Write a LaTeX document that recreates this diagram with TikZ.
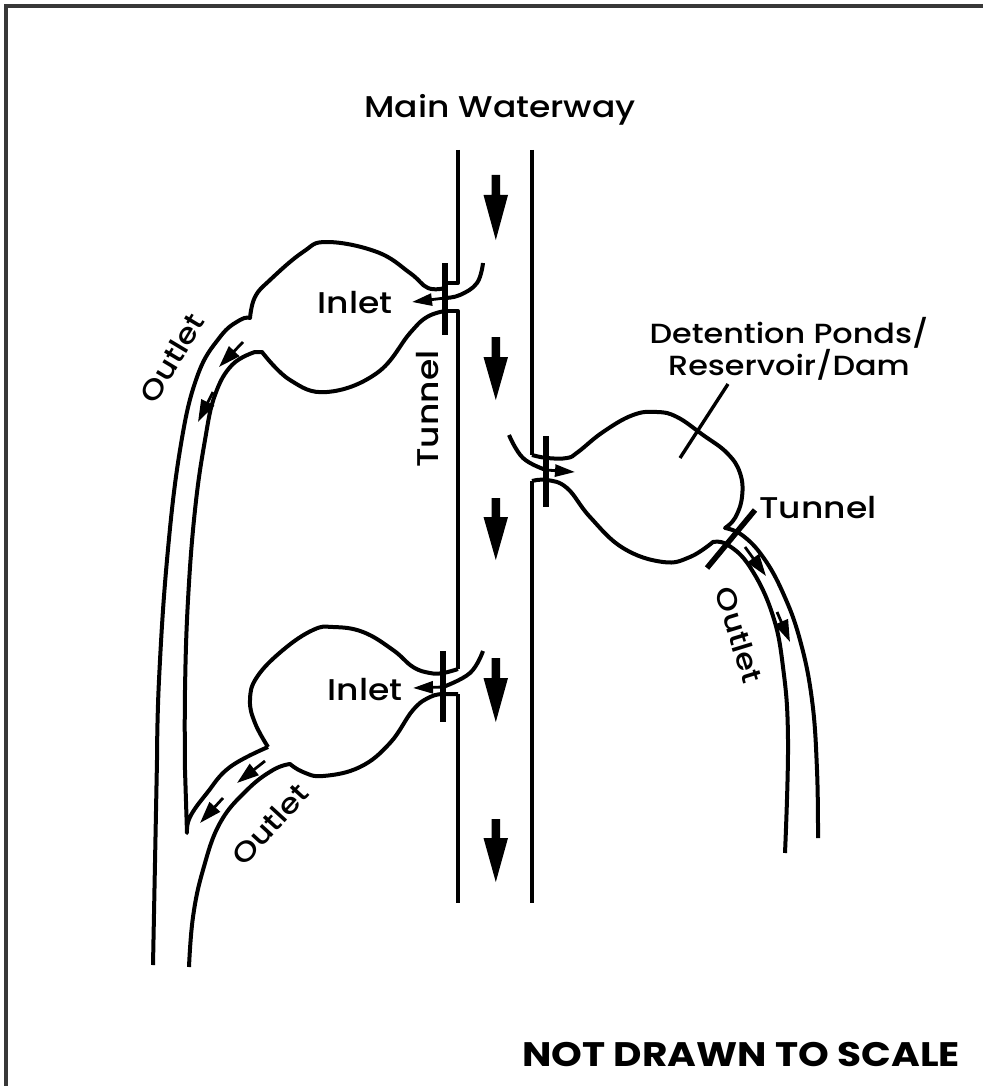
\documentclass[tikz,border=0pt]{standalone}
\usepackage{fontspec}
\setmainfont[FakeStretch=1.15,BoldFont={Poppins Bold}]{Poppins Medium}
\usetikzlibrary{arrows.meta}
\definecolor{framec}{HTML}{383838}
\tikzset{
 wall/.style={line width=4pt,black,line join=round},
 bar/.style={line width=5.5pt,black},
 lead/.style={line width=3.4pt,black},
 lbl/.style={font=\fontsize{30}{32}\selectfont,text=black,inner sep=0pt,align=center},
 outl/.style={font=\fontsize{28}{30}\selectfont,text=black,inner sep=0pt},
 smallarrow/.style={line width=2.8pt,black},
 curve/.style={smooth,tension=0.7},
}
\newcommand{\bigarrow}[3]{%
 \fill (491.5,#1) -- (500,#1) -- (500,#2) -- (508,#2) -- (495.8,#3) -- (483.5,#2) -- (491.5,#2) -- cycle;
 }
\newcommand{\smarrow}[2]{%
 \draw[smallarrow,-{Triangle[length=22pt,width=14pt]}] #1 -- #2;}
\newcommand{\inarrow}[2]{%
 \draw[smallarrow,-{Triangle[length=20pt,width=12pt]}] #1 -- #2;}
\begin{document}
\begin{tikzpicture}[x=1pt,y=-1pt]
\useasboundingbox (0,0) rectangle (983,1086);
\fill[white] (0,0) rectangle (983,1086);
\draw[framec,line width=4.5pt] (6,1086) -- (6,6) -- (983,6);

% main waterway banks
\draw[wall] (458,150) -- (458,283) -- (445,283);
\draw[wall] (532,150) -- (532,455);
\draw[wall] (445,311) -- (458,311) -- (458,669);
\draw[wall] (458,694) -- (458,903);
\draw[wall] (532,481) -- (532,903);

% pond 1
\draw[wall] plot[curve] coordinates {(445,288) (428,288) (410,273) (377,252) (327,242) (303,252) (270,280) (255,297) (250,318)}
 -- plot[curve] coordinates {(250,318) (240,320) (220,337) (197,377) (180,450) (167,560) (159,680) (157,760)}
 -- (153,965);
\draw[wall] plot[curve] coordinates {(445,311) (427,317) (410,333) (377,373) (327,392) (290,380) (262,352)}
 -- (255,352)
 -- plot[curve] coordinates {(255,352) (232,365) (215,395) (205,440) (195,510) (188,600) (185,690) (185,770)}
 -- (187,833)
 -- plot[curve] coordinates {(187,833) (190,817) (207,793) (230,767) (268,747)};

% pond 2
\draw[wall] plot[curve] coordinates {(268,747) (255,723) (250,700) (257,677) (283,650) (313,630) (333,627) (363,632) (393,650) (413,667) (430,673) (443,673) (458,669)};
\draw[wall] (458,694) -- (443,694)
 -- plot[curve] coordinates {(443,694) (430,697) (413,710) (390,743) (360,767) (323,776) (303,772) (290,764)}
 -- plot[curve] coordinates {(290,764) (273,770) (247,790) (220,823) (203,870) (193,917) (189,967)};

% right pond
\draw[wall] plot[curve] coordinates {(532,455) (547,458) (567,458) (578,452) (603,432) (633,415) (657,412) (677,417) (703,435) (727,453) (740,473) (742,497) (735,518) (725,528)}
 -- plot[curve] coordinates {(725,528) (742,535) (763,557) (783,593) (800,640) (812,700) (817,770) (818,838)};
\draw[wall] plot[curve] coordinates {(532,481) (547,480) (567,488) (590,517) (623,548) (663,562) (690,557) (713,542)}
 -- plot[curve] coordinates {(713,542) (728,545) (750,567) (772,613) (783,667) (788,740) (785,853)};

% tunnel bars
\draw[bar] (445,263) -- (445,335);
\draw[bar] (443,651) -- (443,722);
\draw[bar] (546,436) -- (546,507);
\draw[bar] (755,510) -- (707,568);

% inlet curves
\draw[wall] plot[curve] coordinates {(483,263) (477,283) (460,295) (445,298)};
\draw[wall] plot[curve] coordinates {(483,651) (470,673) (443,687)};
\draw[wall] plot[curve] coordinates {(509,435) (523,458) (546,470)};

% leader
\draw[lead] (728,384) -- (680,458);

% small arrows
\inarrow{(445,298)}{(412,302)}
\inarrow{(443,687)}{(413,688)}
\inarrow{(546,470)}{(575,472)}
\smarrow{(243,342)}{(219,367)}
\smarrow{(213,392)}{(198,422)}
\smarrow{(265,761)}{(237,783)}
\smarrow{(223,798)}{(200,823)}
\smarrow{(745,547)}{(766,576)}
\smarrow{(777,612)}{(790,642)}

% big arrows
\bigarrow{175}{195}{240}
\bigarrow{337}{357}{400}
\bigarrow{498}{517}{560}
\bigarrow{658}{678}{722}
\bigarrow{819}{838}{882}

% labels
\node[lbl] (main) at (500,110) {Main Waterway};
\node[lbl] (in1) at (355,303) {Inlet};
\node[lbl] (in2) at (365,690) {Inlet};
\node[lbl,rotate=90] (tun1) at (428,409) {Tunnel};
\node[lbl] (tun2) at (818,508) {Tunnel};
\node[outl,rotate=59] (out1) at (172,358) {Outlet};
\node[outl,rotate=47.5] (out2) at (270,824) {Outlet};
\node[outl,rotate=-73] (out3) at (739,635) {Outlet};
\node[lbl,font=\fontsize{27.7}{32}\selectfont] (det) at (789,349) {Detention Ponds/\\Reservoir/Dam};
\node[lbl,font=\fontsize{34}{36}\selectfont\bfseries] (scale) at (741,1055) {NOT DRAWN TO SCALE};
\end{tikzpicture}
\end{document}
